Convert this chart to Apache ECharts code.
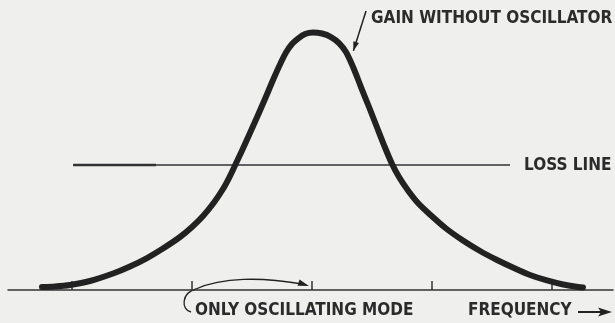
<!DOCTYPE html>
<html>
<head>
<meta charset="utf-8">
<script src="https://cdn.jsdelivr.net/npm/echarts@6/dist/echarts.min.js"></script>
<style>
  html, body { margin: 0; padding: 0; background: #efefed; }
  #chart { width: 615px; height: 323px; }
</style>
</head>
<body>
<div id="chart"></div>
<script>
// Gain curve of the amplifier without the oscillator (frequency in tick units, gain in arbitrary units)
const frequency = [
  -0.250, -0.142, -0.017, 0.150, 0.342, 0.483, 0.625, 0.758, 0.900, 1.000, 1.092, 1.183, 1.258,
  1.308, 1.358, 1.417, 1.483, 1.550, 1.617, 1.675, 1.733, 1.783, 1.833, 1.883, 1.942, 2.008,
  2.083, 2.158, 2.225, 2.283, 2.342, 2.408, 2.475, 2.542, 2.608, 2.667, 2.725, 2.800, 2.883,
  2.983, 3.117, 3.258, 3.400, 3.542, 3.683, 3.817, 3.958, 4.092, 4.192, 4.258
];
const gain = [
  0.116, 0.136, 0.194, 0.349, 0.640, 0.912, 1.241, 1.610, 2.056, 2.444, 2.870, 3.394, 3.918,
  4.344, 4.829, 5.411, 6.090, 6.788, 7.506, 8.146, 8.747, 9.213, 9.542, 9.756, 9.930, 9.988,
  9.950, 9.814, 9.581, 9.232, 8.650, 7.874, 7.099, 6.303, 5.528, 4.888, 4.383, 3.860, 3.375,
  2.929, 2.386, 1.920, 1.513, 1.164, 0.853, 0.582, 0.369, 0.213, 0.136, 0.097
];

// Loss line: constant level across the band
const lossStart = 0.01;
const lossHeavyEnd = 0.70;
const lossEnd = 3.65;
const lossLevel = 4.85;

// Frequency ticks
const tickValues = [0, 1, 2, 3, 4];

const ink = '#222222';
const textInk = '#2b2b2b';
const font = '"DejaVu Sans Condensed", "DejaVu Sans", sans-serif';

const chart = echarts.init(document.getElementById('chart'));

chart.setOption({
  backgroundColor: '#efefed',
  animation: false,
  grid: { left: 8, right: 2, top: 0, bottom: 33 },
  xAxis: {
    type: 'value',
    min: -0.5333,
    max: 4.508,
    axisLine: { show: true, lineStyle: { color: '#333', width: 1.5 } },
    axisTick: { show: true, inside: true, length: 9, customValues: tickValues, lineStyle: { color: '#333', width: 1.5 } },
    axisLabel: { show: false },
    splitLine: { show: false }
  },
  yAxis: {
    type: 'value',
    min: 0,
    max: 11.25,
    show: false
  },
  series: [
    {
      name: 'Loss line (heavy)',
      type: 'line',
      symbol: 'none',
      data: [[lossStart, lossLevel], [lossHeavyEnd, lossLevel]],
      lineStyle: { color: '#333', width: 2.6 },
      z: 2
    },
    {
      name: 'Loss line',
      type: 'line',
      symbol: 'none',
      data: [[lossStart, lossLevel], [lossEnd, lossLevel]],
      lineStyle: { color: '#333', width: 1.5 },
      z: 2
    },
    {
      name: 'Gain without oscillator',
      type: 'line',
      symbol: 'none',
      smooth: 0.3,
      data: frequency.map((f, i) => [f, gain[i]]),
      lineStyle: { color: ink, width: 6, cap: 'round', join: 'round' },
      z: 3
    }
  ]
});

// Annotations anchored to the axes
const px = (x, y) => chart.convertToPixel({ gridIndex: 0 }, [x, y]);
const t1 = px(1, 0);
const t2 = px(2, 0);
const gainTail = px(2.45, 10.82);
const gainTip = px(2.345, 9.28);
const lossLabel = px(lossEnd, lossLevel);

function arrowHead(tip, from, len, half) {
  const dx = tip[0] - from[0], dy = tip[1] - from[1];
  const d = Math.hypot(dx, dy);
  const ux = dx / d, uy = dy / d;
  const bx = tip[0] - ux * len, by = tip[1] - uy * len;
  return [tip, [bx - uy * half, by + ux * half], [bx + uy * half, by - ux * half]];
}

const label = (text, x, y) => ({
  type: 'text',
  x: x, y: y,
  style: { text: text, fill: textInk, font: 'bold 17px ' + font, verticalAlign: 'middle', align: 'left' }
});

chart.setOption({
  graphic: [
    label('GAIN WITHOUT OSCILLATOR', gainTail[0] + 5, gainTail[1] + 7),
    {
      type: 'line',
      shape: { x1: gainTail[0], y1: gainTail[1], x2: gainTip[0], y2: gainTip[1] },
      style: { stroke: ink, lineWidth: 1.5 }
    },
    {
      type: 'polygon',
      shape: { points: arrowHead(gainTip, gainTail, 9, 3) },
      style: { fill: ink }
    },
    label('LOSS LINE', lossLabel[0] + 14, lossLabel[1] + 1),
    // curved pointer from the caption to the oscillating mode
    {
      type: 'bezierCurve',
      shape: {
        x1: t1[0] - 1, y1: t1[1] + 22,
        cpx1: t1[0] - 11, cpy1: t1[1] + 20,
        cpx2: t1[0] - 11, cpy2: t1[1] + 3,
        x2: t1[0] + 4, y2: t1[1] - 1
      },
      style: { stroke: ink, lineWidth: 1.3, fill: null }
    },
    {
      type: 'bezierCurve',
      shape: {
        x1: t1[0] + 4, y1: t1[1] - 1,
        cpx1: t1[0] + 30, cpy1: t1[1] - 13,
        cpx2: t2[0] - 50, cpy2: t2[1] - 13,
        x2: t2[0] - 10, y2: t2[1] - 6
      },
      style: { stroke: ink, lineWidth: 1.3, fill: null }
    },
    {
      type: 'polygon',
      shape: { points: arrowHead([t2[0] - 3, t2[1] - 4], [t2[0] - 14, t2[1] - 7.5], 11, 3.2) },
      style: { fill: ink }
    },
    label('ONLY OSCILLATING MODE', t1[0] + 3, t1[1] + 21),
    label('FREQUENCY', 468, t1[1] + 21),
    {
      type: 'line',
      shape: { x1: 578, y1: t1[1] + 22, x2: 602, y2: t1[1] + 22 },
      style: { stroke: ink, lineWidth: 2 }
    },
    {
      type: 'polygon',
      shape: { points: [[612, t1[1] + 22], [598, t1[1] + 17.5], [601, t1[1] + 22], [598, t1[1] + 26.5]] },
      style: { fill: ink }
    }
  ]
});
</script>
</body>
</html>
